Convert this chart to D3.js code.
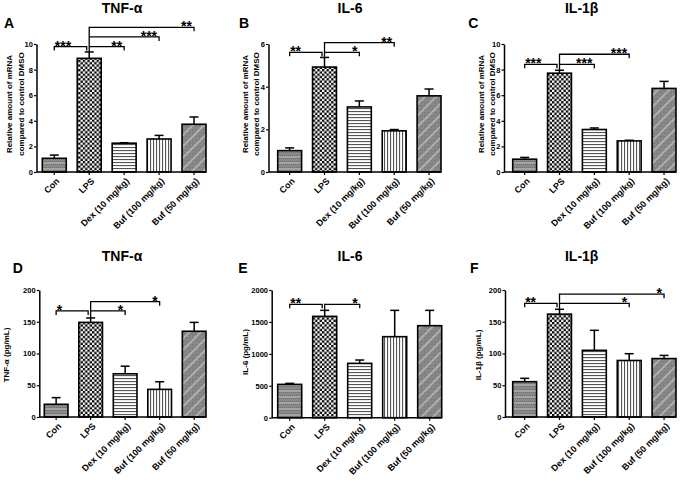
<!DOCTYPE html>
<html><head><meta charset="utf-8">
<script src="https://cdn.jsdelivr.net/npm/d3@7"></script>
<style>
body{margin:0;background:#fff}
svg{display:block}
text{font-family:"Liberation Sans",Arial,sans-serif;font-weight:bold;fill:#000}
</style>
</head><body><svg id="c" width="685" height="480"></svg>
<script>
const categories = ["Con","LPS","Dex (10 mg/kg)","Buf (100 mg/kg)","Buf (50 mg/kg)"];
const panelLetters = ["A","B","C","D","E","F"];
const panelTitles = ["TNF-\u03b1","IL-6","IL-1\u03b2","TNF-\u03b1","IL-6","IL-1\u03b2"];
const yLabels = [
  ["Relative amount of mRNA","compared to control DMSO"],
  ["Relative amount of mRNA","compared to control DMSO"],
  ["Relative amount of mRNA","compared to control DMSO"],
  ["TNF-\u03b1 (pg/mL)"],
  ["IL-6 (pg/mL)"],
  ["IL-1\u03b2 (pg/mL)"]
];
const yMax = [10, 6, 10, 200, 2000, 200];
const yTicks = [
  [0,2,4,6,8,10],
  [0,2,4,6],
  [0,2,4,6,8,10],
  [0,50,100,150,200],
  [0,500,1000,1500,2000],
  [0,50,100,150,200]
];
// means
const meanA = [1.07, 8.88, 2.25, 2.58, 3.73];
const meanB = [1.0, 4.92, 3.05, 1.93, 3.57];
const meanC = [1.0, 7.72, 3.32, 2.43, 6.53];
const meanD = [20, 149, 68, 43.5, 135];
const meanE = [522, 1587, 851, 1269, 1441];
const meanF = [55.6, 162, 105, 89, 92];
// upper error (SEM)
const errA = [0.25, 0.5, 0.04, 0.28, 0.57];
const errB = [0.13, 0.45, 0.28, 0.06, 0.32];
const errC = [0.14, 0.23, 0.12, 0.05, 0.55];
const errD = [10.5, 7, 12, 12, 14];
const errE = [16, 94, 52, 412, 240];
const errF = [5.3, 7.6, 31.5, 10.7, 5];
// significance brackets: [from, to, level, label]
const sigA = [[0,1,9.8,"***"],[1,2,9.8,"**"],[1,3,10.55,"***"],[1,4,11.3,"**"]];
const sigB = [[0,1,5.61,"**"],[1,2,5.61,"*"],[1,3,6.06,"**"]];
const sigC = [[0,1,8.41,"***"],[1,2,8.41,"***"],[1,3,9.2,"***"]];
const sigD = [[0,1,167,"*"],[1,2,167,"*"],[1,3,181.6,"*"]];
const sigE = [[0,1,1776,"**"],[1,2,1776,"*"]];
const sigF = [[0,1,179,"**"],[1,3,179,"*"],[1,4,193.5,"*"]];

const means = [meanA, meanB, meanC, meanD, meanE, meanF];
const errs = [errA, errB, errC, errD, errE, errF];
const sigs = [sigA, sigB, sigC, sigD, sigE, sigF];

const layouts = [
  {axisX:36.5,  barL:42.3,  barR:206,   top:44,  bottom:172,   letterX:4,     letterY:28.3,  titleX:122,   titleY:13,   ylab:[12.3,23.5], ylabY:104},
  {axisX:268.5, barL:277.7, barR:441,   top:44,  bottom:172,   letterX:239,   letterY:28.3,  titleX:350,   titleY:13,   ylab:[247.5,258.8], ylabY:104},
  {axisX:504,   barL:512.7, barR:676,   top:44,  bottom:172,   letterX:468.3, letterY:28.3,  titleX:581.7, titleY:13,   ylab:[484,495], ylabY:104},
  {axisX:39.3,  barL:44.3,  barR:206,   top:290, bottom:417,   letterX:12.7,  letterY:273.3, titleX:122,   titleY:260.7, ylab:[8.8], ylabY:355},
  {axisX:271.7, barL:277.7, barR:441.7, top:290, bottom:417.7, letterX:238.3, letterY:273.3, titleX:350,   titleY:260.7, ylab:[248], ylabY:352},
  {axisX:505,   barL:512.7, barR:676,   top:290, bottom:417,   letterX:470,   letterY:273.3, titleX:581.7, titleY:260.7, ylab:[481], ylabY:355}
];

const svg = d3.select("#c");
const defs = svg.append("defs");

// pattern 0: Con – gray banded
{
  const p = defs.append("pattern").attr("id","pat0").attr("patternUnits","userSpaceOnUse").attr("width",2).attr("height",6);
  p.append("rect").attr("width",2).attr("height",6).attr("fill","#7a7a7a");
  p.append("rect").attr("y",0).attr("width",2).attr("height",2).attr("fill","#a4a4a4");
  p.append("rect").attr("x",0).attr("y",3).attr("width",1).attr("height",1).attr("fill","#999");
  p.append("rect").attr("x",1).attr("y",4).attr("width",1).attr("height",1).attr("fill","#999");
}
// pattern 1: LPS – black/white checker
{
  const p = defs.append("pattern").attr("id","pat1").attr("patternUnits","userSpaceOnUse").attr("width",4.6).attr("height",4.6);
  p.append("rect").attr("width",4.6).attr("height",4.6).attr("fill","#fff");
  p.append("rect").attr("width",2.3).attr("height",2.3).attr("fill","#000");
  p.append("rect").attr("x",2.3).attr("y",2.3).attr("width",2.3).attr("height",2.3).attr("fill","#000");
}
// pattern 2: Dex – horizontal lines
{
  const p = defs.append("pattern").attr("id","pat2").attr("patternUnits","userSpaceOnUse").attr("width",4).attr("height",3);
  p.append("rect").attr("width",4).attr("height",3).attr("fill","#fff");
  p.append("rect").attr("y",0).attr("width",4).attr("height",1.1).attr("fill","#555");
}
// pattern 3: Buf100 – vertical lines
{
  const p = defs.append("pattern").attr("id","pat3").attr("patternUnits","userSpaceOnUse").attr("width",3).attr("height",4);
  p.append("rect").attr("width",3).attr("height",4).attr("fill","#fff");
  p.append("rect").attr("x",0).attr("width",1.1).attr("height",4).attr("fill","#555");
}
// pattern 4: Buf50 – gray fine texture with faint diagonal
{
  const p = defs.append("pattern").attr("id","pat4").attr("patternUnits","userSpaceOnUse").attr("width",8).attr("height",8).attr("patternTransform","rotate(45)");
  p.append("rect").attr("width",8).attr("height",8).attr("fill","#939393");
  for (let r = 0; r < 8; r += 2) {
    for (let c = 0; c < 8; c += 2) {
      p.append("rect").attr("x", c).attr("y", r).attr("width",1).attr("height",1).attr("fill","#777");
      p.append("rect").attr("x", c+1).attr("y", r+1).attr("width",1).attr("height",1).attr("fill","#777");
    }
  }
  p.append("rect").attr("x",0).attr("width",1.6).attr("height",8).attr("fill","#b8b8b8");
}

means.forEach((mean, i) => {
  const L = layouts[i];
  const err = errs[i];
  const g = svg.append("g");
  const y = d3.scaleLinear().domain([0, yMax[i]]).range([L.bottom, L.top]);
  const x = d3.scaleBand().domain(categories).range([L.barL, L.barR]).paddingInner(0.314).paddingOuter(0);
  const cx = j => x(categories[j]) + x.bandwidth() / 2;

  // title + letter
  g.append("text").attr("x", L.titleX).attr("y", L.titleY).attr("text-anchor","middle")
    .attr("font-size", 14).text(panelTitles[i]);
  g.append("text").attr("x", L.letterX).attr("y", L.letterY).attr("font-size", 14).text(panelLetters[i]);

  // y label
  yLabels[i].forEach((t, k) => {
    g.append("text").attr("transform", `translate(${L.ylab[k]},${L.ylabY}) rotate(-90)`)
      .attr("text-anchor","middle").attr("font-size", 8).text(t);
  });

  // bars
  g.selectAll("rect.bar").data(mean).join("rect").attr("class","bar")
    .attr("x", (d, j) => x(categories[j]))
    .attr("y", d => y(d))
    .attr("width", x.bandwidth())
    .attr("height", d => L.bottom - y(d))
    .attr("fill", (d, j) => `url(#pat${j})`)
    .attr("stroke", "#000").attr("stroke-width", 1.6);

  // error bars
  const eb = g.selectAll("g.err").data(mean).join("g").attr("class","err");
  eb.append("line")
    .attr("x1", (d, j) => cx(j)).attr("x2", (d, j) => cx(j))
    .attr("y1", d => y(d)).attr("y2", (d, j) => y(d + err[j]))
    .attr("stroke", "#000").attr("stroke-width", 1.5);
  eb.append("line")
    .attr("x1", (d, j) => cx(j) - 4.5).attr("x2", (d, j) => cx(j) + 4.5)
    .attr("y1", (d, j) => y(d + err[j])).attr("y2", (d, j) => y(d + err[j]))
    .attr("stroke", "#000").attr("stroke-width", 1.5);

  // y axis
  const ya = g.append("g").attr("transform", `translate(${L.axisX},0)`)
    .call(d3.axisLeft(y).tickValues(yTicks[i]).tickFormat(d3.format("d")).tickSize(2.5).tickSizeOuter(0).tickPadding(1.2));
  ya.select(".domain").attr("stroke-width", 1.5);
  ya.selectAll(".tick line").attr("stroke-width", 1.2);
  ya.selectAll(".tick text").attr("font-size", 7.5).attr("font-family", '"Liberation Sans",Arial,sans-serif');

  // x axis
  const xa = g.append("g").attr("transform", `translate(0,${L.bottom})`)
    .call(d3.axisBottom(x).tickSize(3).tickSizeOuter(0));
  xa.select(".domain").attr("d", `M${L.axisX},0H${L.barR}`).attr("stroke-width", 1.5);
  xa.selectAll(".tick line").attr("stroke-width", 1.2);
  xa.selectAll(".tick text").attr("font-size", 9).attr("font-family", '"Liberation Sans",Arial,sans-serif')
    .attr("text-anchor","end").attr("x", 0).attr("y", 0).attr("dy","0.35em")
    .attr("transform","translate(3.5,7.5) rotate(-45)");

  // significance brackets
  const sig = sigs[i];
  const lpsX = cx(1);
  const lpsTop = y(mean[1] + err[1]);
  const rightLevels = sig.filter(s => s[0] === 1).map(s => y(s[2]));
  if (rightLevels.length) {
    g.append("line").attr("x1", lpsX).attr("x2", lpsX).attr("y1", lpsTop).attr("y2", d3.min(rightLevels) - 0.6)
      .attr("stroke", "#000").attr("stroke-width", 1.3);
  }
  sig.forEach(s => {
    const yb = y(s[2]);
    let path, tx, anchor;
    if (s[0] === 0) {
      path = `M${cx(0)},${yb + 4}V${yb}H${lpsX - 2.5}V${yb + 4}`;
      tx = cx(0) + 0.5; anchor = "start";
    } else {
      path = `M${lpsX},${yb}H${cx(s[1])}V${yb + 4}`;
      tx = cx(s[1]) - 2; anchor = "end";
    }
    g.append("path").attr("d", path).attr("fill","none").attr("stroke","#000").attr("stroke-width",1.3);
    g.append("text").attr("x", tx).attr("y", yb + 4).attr("text-anchor", anchor)
      .attr("font-size", 14).text(s[3]);
  });
});
</script>
</body></html>
